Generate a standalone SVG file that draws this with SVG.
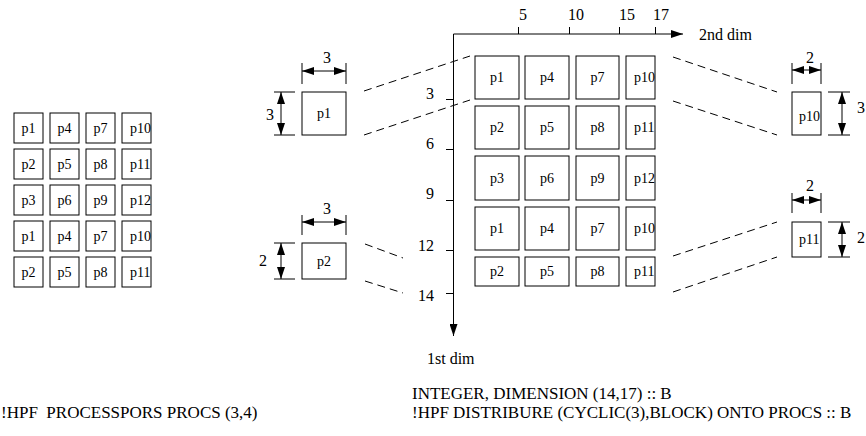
<svg xmlns="http://www.w3.org/2000/svg" width="866" height="436" viewBox="0 0 866 436">
<style>
text{font-family:"Liberation Serif","Times New Roman",serif;fill:#000}
.lbl{font-size:14px;text-anchor:middle}
.lbs{font-size:14px}
.num{font-size:16px}
.code{font-size:17px}
.box{fill:#fff;stroke:#000;stroke-width:1}
.ln{stroke:#000;stroke-width:1;fill:none}
.dash{stroke:#000;stroke-width:1;fill:none;stroke-dasharray:8,5}
.dim{stroke:#000;stroke-width:1;fill:none;marker-start:url(#ah);marker-end:url(#ah)}
</style>
<defs>
<marker id="ah" viewBox="0 0 12 8" refX="12" refY="4" markerWidth="12" markerHeight="8" markerUnits="userSpaceOnUse" orient="auto-start-reverse">
<path d="M0,0 L12,4 L0,8 z" fill="#000"/>
</marker>
<marker id="ax" viewBox="0 0 12 8" refX="12" refY="4" markerWidth="12" markerHeight="8" markerUnits="userSpaceOnUse" orient="auto">
<path d="M0,0 L12,4 L0,8 z" fill="#000"/>
</marker>
</defs>

<g id="left-grid">
<rect class="box" x="14" y="113" width="29" height="30"/><text class="lbl" x="28.5" y="133">p1</text>
<rect class="box" x="50" y="113" width="29" height="30"/><text class="lbl" x="64.5" y="133">p4</text>
<rect class="box" x="86" y="113" width="29" height="30"/><text class="lbl" x="100.5" y="133">p7</text>
<rect class="box" x="122" y="113" width="29" height="30"/><text class="lbs" x="130" y="133">p10</text>
<rect class="box" x="14" y="149" width="29" height="30"/><text class="lbl" x="28.5" y="169">p2</text>
<rect class="box" x="50" y="149" width="29" height="30"/><text class="lbl" x="64.5" y="169">p5</text>
<rect class="box" x="86" y="149" width="29" height="30"/><text class="lbl" x="100.5" y="169">p8</text>
<rect class="box" x="122" y="149" width="29" height="30"/><text class="lbs" x="130" y="169">p11</text>
<rect class="box" x="14" y="185" width="29" height="30"/><text class="lbl" x="28.5" y="205">p3</text>
<rect class="box" x="50" y="185" width="29" height="30"/><text class="lbl" x="64.5" y="205">p6</text>
<rect class="box" x="86" y="185" width="29" height="30"/><text class="lbl" x="100.5" y="205">p9</text>
<rect class="box" x="122" y="185" width="29" height="30"/><text class="lbs" x="130" y="205">p12</text>
<rect class="box" x="14" y="221" width="29" height="30"/><text class="lbl" x="28.5" y="241">p1</text>
<rect class="box" x="50" y="221" width="29" height="30"/><text class="lbl" x="64.5" y="241">p4</text>
<rect class="box" x="86" y="221" width="29" height="30"/><text class="lbl" x="100.5" y="241">p7</text>
<rect class="box" x="122" y="221" width="29" height="30"/><text class="lbs" x="130" y="241">p10</text>
<rect class="box" x="14" y="257" width="29" height="30"/><text class="lbl" x="28.5" y="277">p2</text>
<rect class="box" x="50" y="257" width="29" height="30"/><text class="lbl" x="64.5" y="277">p5</text>
<rect class="box" x="86" y="257" width="29" height="30"/><text class="lbl" x="100.5" y="277">p8</text>
<rect class="box" x="122" y="257" width="29" height="30"/><text class="lbs" x="130" y="277">p11</text>
</g>

<g id="main-grid">
<rect class="box" x="475" y="56" width="44" height="43"/><text class="lbl" x="497" y="82">p1</text>
<rect class="box" x="525" y="56" width="44" height="43"/><text class="lbl" x="547" y="82">p4</text>
<rect class="box" x="576" y="56" width="43" height="43"/><text class="lbl" x="597.5" y="82">p7</text>
<rect class="box" x="626" y="56" width="29" height="43"/><text class="lbs" x="634" y="82">p10</text>
<rect class="box" x="475" y="106" width="44" height="43"/><text class="lbl" x="497" y="132">p2</text>
<rect class="box" x="525" y="106" width="44" height="43"/><text class="lbl" x="547" y="132">p5</text>
<rect class="box" x="576" y="106" width="43" height="43"/><text class="lbl" x="597.5" y="132">p8</text>
<rect class="box" x="626" y="106" width="29" height="43"/><text class="lbs" x="634" y="132">p11</text>
<rect class="box" x="475" y="156" width="44" height="44"/><text class="lbl" x="497" y="183">p3</text>
<rect class="box" x="525" y="156" width="44" height="44"/><text class="lbl" x="547" y="183">p6</text>
<rect class="box" x="576" y="156" width="43" height="44"/><text class="lbl" x="597.5" y="183">p9</text>
<rect class="box" x="626" y="156" width="29" height="44"/><text class="lbs" x="634" y="183">p12</text>
<rect class="box" x="475" y="207" width="44" height="43"/><text class="lbl" x="497" y="233">p1</text>
<rect class="box" x="525" y="207" width="44" height="43"/><text class="lbl" x="547" y="233">p4</text>
<rect class="box" x="576" y="207" width="43" height="43"/><text class="lbl" x="597.5" y="233">p7</text>
<rect class="box" x="626" y="207" width="29" height="43"/><text class="lbs" x="634" y="233">p10</text>
<rect class="box" x="475" y="257" width="44" height="29"/><text class="lbl" x="497" y="276">p2</text>
<rect class="box" x="525" y="257" width="44" height="29"/><text class="lbl" x="547" y="276">p5</text>
<rect class="box" x="576" y="257" width="43" height="29"/><text class="lbl" x="597.5" y="276">p8</text>
<rect class="box" x="626" y="257" width="29" height="29"/><text class="lbs" x="634" y="276">p11</text>
</g>

<g id="axes">
<line class="ln" x1="453.5" y1="34" x2="683" y2="34" marker-end="url(#ax)"/>
<line class="ln" x1="453.5" y1="34" x2="453.5" y2="336" marker-end="url(#ax)"/>
<path class="ln" d="M518.5,27V34M569.5,27V34M619.5,27V34M655.5,27V34"/>
<path class="ln" d="M446,99.5H454M446,149.5H454M446,200.5H454M446,250.5H454M446,293.5H454"/>
<text class="num" x="519" y="20">5</text>
<text class="num" x="568" y="20">10</text>
<text class="num" x="619" y="20">15</text>
<text class="num" x="653" y="20">17</text>
<text class="num" x="699" y="40">2nd dim</text>
<text class="num" text-anchor="end" x="434" y="99">3</text>
<text class="num" text-anchor="end" x="434" y="149">6</text>
<text class="num" text-anchor="end" x="434" y="199">9</text>
<text class="num" text-anchor="end" x="434" y="251">12</text>
<text class="num" text-anchor="end" x="434" y="301">14</text>
<text class="num" x="427" y="364">1st dim</text>
</g>

<g id="block-p1">
<rect class="box" x="302" y="92" width="44" height="43"/>
<text class="lbl" x="324" y="118">p1</text>
<path class="ln" d="M302,63V84M346,63V84M274,92H295M274,135H295"/>
<line class="dim" x1="302" y1="71" x2="346" y2="71"/>
<line class="dim" x1="281" y1="92" x2="281" y2="135"/>
<text class="num" text-anchor="middle" x="327" y="63">3</text>
<text class="num" text-anchor="middle" x="270" y="120">3</text>
</g>

<g id="block-p2">
<rect class="box" x="302" y="243" width="44" height="36"/>
<text class="lbl" x="324" y="266">p2</text>
<path class="ln" d="M302,215V235M346,215V235M274,243H295M274,279H295"/>
<line class="dim" x1="302" y1="222" x2="346" y2="222"/>
<line class="dim" x1="281" y1="243" x2="281" y2="279"/>
<text class="num" text-anchor="middle" x="327" y="214">3</text>
<text class="num" text-anchor="middle" x="263" y="266">2</text>
</g>

<g id="block-p10">
<rect class="box" x="792" y="92" width="29" height="43"/>
<text class="lbs" x="799" y="121">p10</text>
<path class="ln" d="M792,63V84M821,63V84M828,92H850M828,135H850"/>
<line class="dim" x1="792" y1="70" x2="821" y2="70"/>
<line class="dim" x1="842" y1="92" x2="842" y2="135"/>
<text class="num" text-anchor="middle" x="810" y="63">2</text>
<text class="num" text-anchor="middle" x="861" y="113">3</text>
</g>

<g id="block-p11">
<rect class="box" x="792" y="222" width="29" height="35"/>
<text class="lbs" x="799" y="244">p11</text>
<path class="ln" d="M792,193V213M821,193V213M828,222H850M828,257H850"/>
<line class="dim" x1="792" y1="200" x2="821" y2="200"/>
<line class="dim" x1="842" y1="222" x2="842" y2="257"/>
<text class="num" text-anchor="middle" x="810" y="191">2</text>
<text class="num" text-anchor="middle" x="861" y="243">2</text>
</g>

<g id="connectors">
<line class="dash" x1="364" y1="91" x2="470" y2="56"/>
<line class="dash" x1="364" y1="135" x2="470" y2="100"/>
<line class="dash" x1="365" y1="244" x2="403" y2="258"/>
<line class="dash" x1="365" y1="281" x2="403" y2="293"/>
<line class="dash" x1="673" y1="57" x2="777" y2="92"/>
<line class="dash" x1="673" y1="101" x2="777" y2="135"/>
<line class="dash" x1="673" y1="256" x2="777" y2="222"/>
<line class="dash" x1="673" y1="292" x2="777" y2="257"/>
</g>

<g id="code">
<text class="code" x="1" y="418" xml:space="preserve">!HPF  PROCESSPORS PROCS (3,4)</text>
<text class="code" x="412" y="399">INTEGER, DIMENSION (14,17) :: B</text>
<text class="code" x="412" y="418">!HPF DISTRIBURE (CYCLIC(3),BLOCK) ONTO PROCS :: B</text>
</g>
</svg>
